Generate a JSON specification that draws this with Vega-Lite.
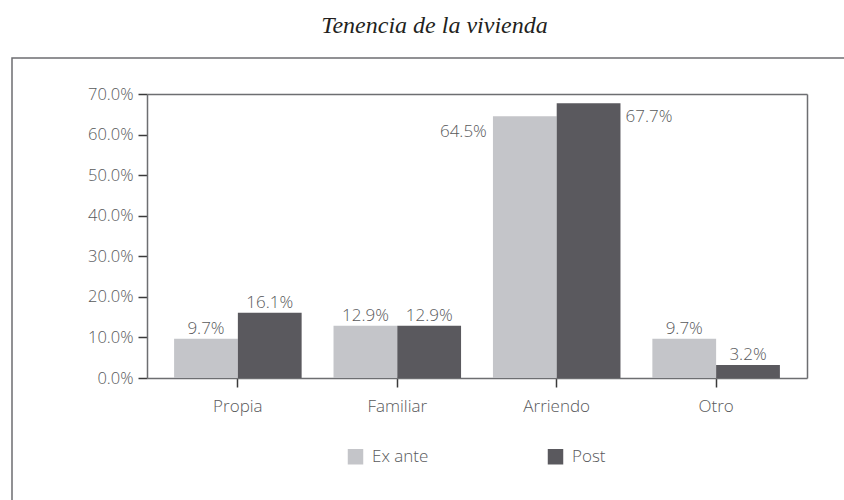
{
  "$schema": "https://vega.github.io/schema/vega-lite/v6.json",
  "width": 850,
  "height": 460,
  "autosize": {"type": "none"},
  "padding": {"left": 12, "top": 58, "right": 0, "bottom": 0},
  "background": "white",
  "config": {
    "font": "Open Sans",
    "view": {"stroke": "#6d6e71", "strokeWidth": 1.5}
  },
  "data": {
    "values": [
      {"tenencia": "Propia", "periodo": "Ex ante", "valor": 0.097},
      {"tenencia": "Propia", "periodo": "Post", "valor": 0.161},
      {"tenencia": "Familiar", "periodo": "Ex ante", "valor": 0.129},
      {"tenencia": "Familiar", "periodo": "Post", "valor": 0.129},
      {"tenencia": "Arriendo", "periodo": "Ex ante", "valor": 0.645},
      {"tenencia": "Arriendo", "periodo": "Post", "valor": 0.677},
      {"tenencia": "Otro", "periodo": "Ex ante", "valor": 0.097},
      {"tenencia": "Otro", "periodo": "Post", "valor": 0.032}
    ]
  },
  "layer": [
    {
      "mark": {"type": "bar"},
      "encoding": {
        "x": {
          "field": "tenencia",
          "type": "nominal",
          "sort": ["Propia", "Familiar", "Arriendo", "Otro"],
          "scale": {"range": [135, 795], "paddingInner": 0.2, "paddingOuter": 0.17},
          "axis": {
            "orient": "bottom",
            "offset": -140,
            "title": null,
            "labelAngle": 0,
            "labelFontSize": 17,
            "labelFontWeight": 300,
            "labelColor": "#58595b",
            "labelPadding": 11,
            "tickSize": 9,
            "tickColor": "#3a3a3a",
            "tickWidth": 1.5,
            "domainColor": "#6d6e71",
            "domainWidth": 1.5
          }
        },
        "xOffset": {"field": "periodo", "type": "nominal", "sort": ["Ex ante", "Post"]},
        "y": {
          "field": "valor",
          "type": "quantitative",
          "scale": {"domain": [0, 0.7], "range": [320, 36], "nice": false},
          "axis": {
            "orient": "left",
            "offset": -135,
            "title": null,
            "grid": false,
            "values": [0, 0.1, 0.2, 0.3, 0.4, 0.5, 0.6, 0.7],
            "format": ".1%",
            "labelFontSize": 16.5,
            "labelFontWeight": 300,
            "labelColor": "#58595b",
            "labelPadding": 5,
            "tickSize": 9,
            "tickColor": "#3a3a3a",
            "tickWidth": 1.5,
            "domainColor": "#6d6e71",
            "domainWidth": 1.5
          }
        },
        "color": {
          "field": "periodo",
          "type": "nominal",
          "scale": {"domain": ["Ex ante", "Post"], "range": ["#c4c5c9", "#5a595e"]},
          "legend": {
            "title": null,
            "orient": "none",
            "legendX": 335,
            "legendY": 390,
            "direction": "horizontal",
            "symbolType": "square",
            "symbolSize": 240,
            "symbolStrokeWidth": 0,
            "labelFontSize": 17,
            "labelFontWeight": 300,
            "labelColor": "#58595b",
            "labelOffset": 8,
            "columnPadding": 118,
            "padding": 0
          }
        }
      }
    },
    {
      "transform": [{"filter": "datum.tenencia != 'Arriendo'"}],
      "mark": {"type": "text", "baseline": "alphabetic", "dy": -5, "fontSize": 17, "fontWeight": 300, "color": "#58595b"},
      "encoding": {
        "x": {"field": "tenencia", "type": "nominal", "sort": ["Propia", "Familiar", "Arriendo", "Otro"], "axis": null},
        "xOffset": {"field": "periodo", "type": "nominal", "sort": ["Ex ante", "Post"]},
        "y": {"field": "valor", "type": "quantitative", "axis": null},
        "text": {"field": "valor", "type": "quantitative", "format": ".1%"}
      }
    },
    {
      "transform": [{"filter": "datum.tenencia == 'Arriendo' && datum.periodo == 'Ex ante'"}],
      "mark": {"type": "text", "baseline": "alphabetic", "align": "right", "dx": -38, "dy": 21, "fontSize": 17, "fontWeight": 300, "color": "#58595b"},
      "encoding": {
        "x": {"field": "tenencia", "type": "nominal", "sort": ["Propia", "Familiar", "Arriendo", "Otro"], "axis": null},
        "xOffset": {"field": "periodo", "type": "nominal", "sort": ["Ex ante", "Post"]},
        "y": {"field": "valor", "type": "quantitative", "axis": null},
        "text": {"field": "valor", "type": "quantitative", "format": ".1%"}
      }
    },
    {
      "transform": [{"filter": "datum.tenencia == 'Arriendo' && datum.periodo == 'Post'"}],
      "mark": {"type": "text", "baseline": "alphabetic", "align": "left", "dx": 37, "dy": 19, "fontSize": 17, "fontWeight": 300, "color": "#58595b"},
      "encoding": {
        "x": {"field": "tenencia", "type": "nominal", "sort": ["Propia", "Familiar", "Arriendo", "Otro"], "axis": null},
        "xOffset": {"field": "periodo", "type": "nominal", "sort": ["Ex ante", "Post"]},
        "y": {"field": "valor", "type": "quantitative", "axis": null},
        "text": {"field": "valor", "type": "quantitative", "format": ".1%"}
      }
    },
    {
      "mark": {"type": "bar", "opacity": 0},
      "encoding": {
        "x": {
          "field": "tenencia",
          "type": "nominal",
          "sort": ["Propia", "Familiar", "Arriendo", "Otro"],
          "axis": {
            "orient": "top",
            "offset": -36,
            "labels": false,
            "ticks": false,
            "domainColor": "#6d6e71",
            "domainWidth": 1.5,
            "title": "Tenencia de la vivienda",
            "titleFont": "Liberation Serif",
            "titleFontStyle": "italic",
            "titleFontSize": 24,
            "titleFontWeight": "normal",
            "titleColor": "#231f20",
            "titleAlign": "center",
            "titleBaseline": "alphabetic",
            "titleX": 422,
            "titleY": -62
          }
        },
        "y": {
          "field": "valor",
          "type": "quantitative",
          "axis": {"orient": "right", "offset": -55, "title": null, "labels": false, "ticks": false, "grid": false, "domainColor": "#6d6e71", "domainWidth": 1.5}
        }
      }
    }
  ],
  "resolve": {"axis": {"x": "independent", "y": "independent"}}
}
